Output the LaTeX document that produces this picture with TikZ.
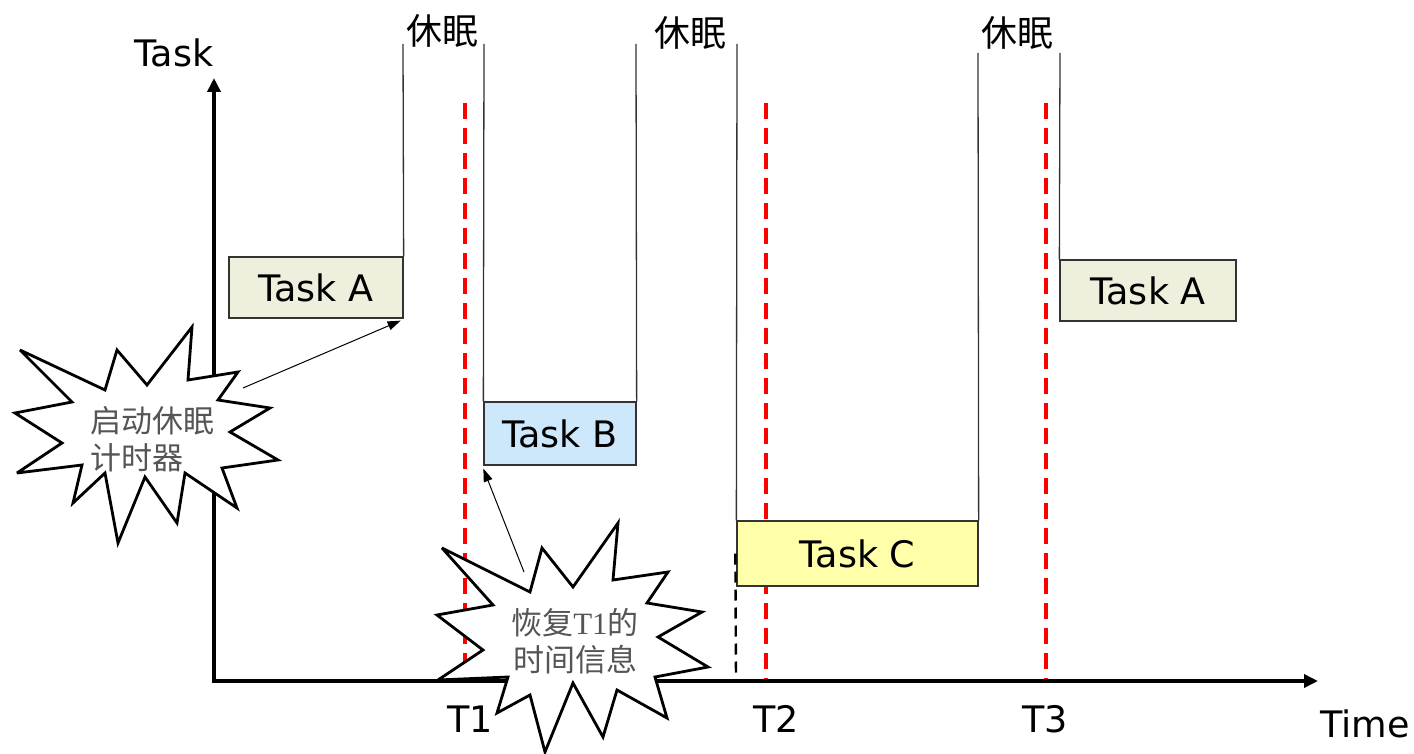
\documentclass[tikz,border=0pt]{standalone}
\usepackage{fontspec}
\setmainfont{DejaVu Sans}
\newfontfamily\cjk{Noto Sans CJK SC}
\newfontfamily\latinserif{Liberation Serif}
\usetikzlibrary{arrows.meta}
\definecolor{taskAfill}{HTML}{EFEFDE}
\definecolor{taskBfill}{HTML}{CCE8FA}
\definecolor{taskCfill}{HTML}{FFFFAA}
\definecolor{burstink}{HTML}{555555}
\definecolor{boxline}{HTML}{333333}
\begin{document}
\begin{tikzpicture}[x=1pt,y=-1pt,
  bigtext/.style={font=\fontsize{36.5}{42}\selectfont},
  taskbox/.style={draw=boxline, line width=1.3pt, inner sep=0pt, bigtext},
  sleeplabel/.style={font=\cjk\fontsize{36}{42}\selectfont},
  burst/.style={draw=black, fill=white, line width=2.8pt, line join=miter, miter limit=4},
  bursttext/.style={text=burstink, align=center, font=\cjk\fontsize{31}{37}\selectfont},
  edge/.style={draw=boxline, line width=1.3pt},
  axis/.style={line width=3.6pt, -{Triangle[length=14pt,width=13pt]}},
  timer/.style={red, line width=3.2pt, dash pattern=on 16pt off 9pt},
  wakeup/.style={black, line width=2.4pt, dash pattern=on 11pt off 7pt},
  pointer/.style={line width=1pt, -{Triangle[length=13pt,width=9pt]}}]
\useasboundingbox (0,0) rectangle (1414,754);
\fill[white] (0,0) rectangle (1414,754);

% time markers
\coordinate (t1top) at (465,103);
\coordinate (t1bot) at (465,680);
\coordinate (t2top) at (766,103);
\coordinate (t2bot) at (766,680);
\coordinate (t3top) at (1046,103);
\coordinate (t3bot) at (1046,680);
\draw[timer] (t1top) -- (t1bot);
\draw[timer] (t2top) -- (t2bot);
\draw[timer] (t3top) -- (t3bot);

% axes
\coordinate (origin) at (214,681);
\coordinate (ytip) at (214,78);
\coordinate (xtip) at (1318,681);
\draw[axis] (origin) -- (ytip);
\draw[axis] ([xshift=-1.8pt]origin) -- (xtip);
\node[bigtext] (tasklabel) at (174,53) {Task};
\node[bigtext] (timelabel) at (1365,724) {Time};
\node[bigtext] (t1) at (470,719) {T1};
\node[bigtext] (t2) at (776,719) {T2};
\node[bigtext] (t3) at (1045,719) {T3};

% task slots
\node[taskbox, fill=taskAfill, minimum width=174pt, minimum height=61pt] (taskA) at (316,287.5) {Task A};
\node[taskbox, fill=taskBfill, minimum width=152pt, minimum height=63pt] (taskB) at (560,433.5) {Task B};
\node[taskbox, fill=taskCfill, minimum width=241pt, minimum height=65pt] (taskC) at (857.5,553.5) {Task C};
\node[taskbox, fill=taskAfill, minimum width=176pt, minimum height=61pt] (taskAnext) at (1148,290.5) {Task A};

% sleep gaps
\coordinate (s1a) at (403,44);
\coordinate (s1b) at (484,44);
\coordinate (s2a) at (636,44);
\coordinate (s2b) at (737,44);
\coordinate (s3a) at (978,53);
\coordinate (s3b) at (1060,53);
\draw[edge] (taskA.north east) -- (s1a);
\draw[edge] (taskB.north west) -- (s1b);
\draw[edge] (taskB.north east) -- (s2a);
\draw[edge] (taskC.north west) -- (s2b);
\draw[edge] (taskC.north east) -- (s3a);
\draw[edge] (taskAnext.north west) -- (s3b);
\node[sleeplabel] (sleep1) at (442,31) {休眠};
\node[sleeplabel] (sleep2) at (690,33) {休眠};
\node[sleeplabel] (sleep3) at (1017,33) {休眠};

% wake-up of Task C
\coordinate (wakebot) at (736,680);
\draw[wakeup] ([xshift=-1pt]taskC.west) -- (wakebot);

% starbursts
\draw[burst] (192,327) -- (188,380) -- (238,372) -- (218,400) -- (270,408) -- (230,432)
  -- (278,460) -- (222,468) -- (237,508) -- (185,473) -- (177,523) -- (145,477)
  -- (118,543) -- (105,473) -- (73,503) -- (82,465) -- (17,473) -- (62,443)
  -- (15,413) -- (72,402) -- (20,350) -- (105,390) -- (117,350) -- (147,385) -- cycle;
\node[bursttext, align=left] (startmsg) at (152,439) {启动休眠\\计时器};

\draw[burst] (618,523) -- (613,580) -- (668,572) -- (647,603) -- (702,612) -- (658,637)
  -- (708,667) -- (655,677) -- (667,718) -- (617,690) -- (603,737) -- (573,683)
  -- (545,752) -- (530,695) -- (497,713) -- (508,677) -- (438,680) -- (483,650)
  -- (437,615) -- (493,605) -- (442,548) -- (530,592) -- (542,548) -- (573,587) -- cycle;
\node[bursttext] (restoremsg) at (575,641) {恢复{\latinserif T1}的\\时间信息};

% pointers
\coordinate (startfrom) at (243,388);
\coordinate (restorefrom) at (524,572);
\draw[pointer] (startfrom) -- ([shift={(-3pt,-2pt)}]taskA.south east);
\draw[pointer] (restorefrom) -- ([shift={(0pt,-3pt)}]taskB.south west);
\end{tikzpicture}
\end{document}
